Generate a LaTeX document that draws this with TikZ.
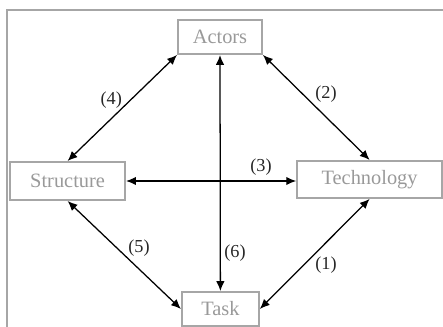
\documentclass[tikz,border=0pt]{standalone}
\usepackage{fontspec}
\setmainfont{Liberation Serif}
\usetikzlibrary{positioning, arrows.meta}

\tikzset{
  box/.style={draw=gray!70, line width=1.4pt, minimum height=0.85cm,
    text=gray!80, font=\fontsize{14.5}{16}\selectfont},
  lab/.style={font=\fontsize{13}{15}\selectfont, text=black!85},
}

\begin{document}
\begin{tikzpicture}[>={Latex[length=7pt, width=6pt]}, line width=0.9pt]
  \useasboundingbox (0,0) rectangle (11.075,8.175);
  \draw[gray!70, thick] (11.075,7.925) -- (0.175,7.925) -- (0.175,0);
  \node[box, minimum width=2.1cm] (actors) at (5.5,7.25) {Actors};
  \node[box, minimum width=2.875cm, minimum height=0.95cm] (structure) at (1.69,3.65) {Structure};
  \node[box, minimum width=3.625cm, minimum height=0.925cm] (technology) at (9.24,3.69) {Technology};
  \node[box, minimum width=1.925cm] (task) at (5.51,0.45) {Task};
  % connections
  \draw[<->] (structure.north) -- (actors.south west);
  \draw[<->] (actors.south east) -- (technology.north);
  \draw[<->] (structure.east) -- (structure.east -| technology.west);
  \draw[<->] (actors.south) -- (task.north);
  \draw[<->] (structure.south) -- (task.west);
  \draw[<->] (technology.south) -- (task.east);
  \node[lab] (l4) at (2.78,5.675) {(4)};
  \node[lab] (l2) at (8.15,5.825) {(2)};
  \node[lab] (l3) at (6.525,4.0) {(3)};
  \node[lab] (l6) at (5.875,1.85) {(6)};
  \node[lab] (l5) at (3.475,1.975) {(5)};
  \node[lab] (l1) at (8.15,1.55) {(1)};
\end{tikzpicture}
\end{document}
